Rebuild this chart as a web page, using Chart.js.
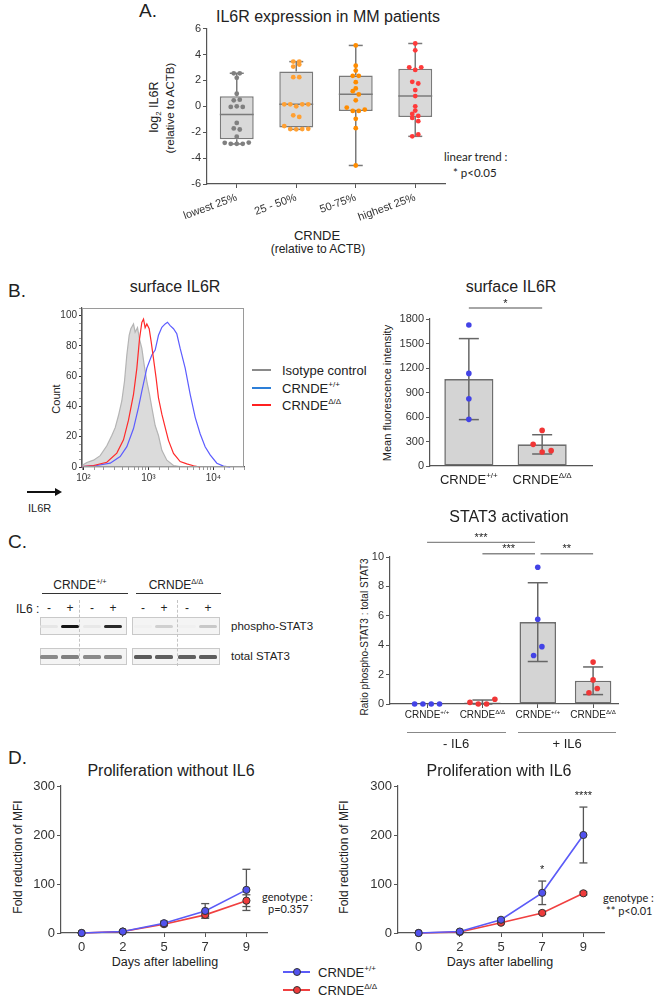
<!DOCTYPE html>
<html>
<head>
<meta charset="utf-8">
<title>CRNDE / IL6R figure</title>
<script src="https://cdn.jsdelivr.net/npm/chart.js@4.4.1/dist/chart.umd.min.js"></script>
<style>
  body { margin: 0; background: #fff; }
  #page { position: relative; width: 654px; height: 997px; overflow: hidden; font-family: "Liberation Sans", Arial, sans-serif; color: #222; }
  .t { position: absolute; white-space: nowrap; line-height: 1; }
  .t sup, .t sub { font-size: 0.62em; line-height: 0; }
  #page canvas { position: absolute; }
  .ln { position: absolute; box-sizing: border-box; }
</style>
</head>
<body>
<div id="page"></div>
<script>
const FONT = '"Liberation Sans", Arial, sans-serif';
const LATO = 'Lato, "Open Sans", sans-serif';

// A. log2 IL6R per CRNDE quartile
const QUARTILES = ['lowest 25%', '25 - 50%', '50-75%', 'highest 25%'];
const IL6R_Q1 = [2.55, 2.2, 2.55, 0.97, 0.46, 0.51, -0.05, 0.0, -0.05, -1.28, -1.71, -1.79, -2.35, -2.82, -2.9, -2.9, -2.9, -2.8];
const IL6R_Q2 = [3.45, 3.45, 3.07, 3.22, 2.25, 2.25, 0.15, 0.15, 0.0, 0.15, 0.15, -0.7, -0.82, -1.53, -1.76, -1.78, -1.76, -1.74];
const IL6R_Q3 = [4.7, 3.14, 2.76, 2.35, 2.35, 1.86, 1.38, 1.17, 0.92, 0.46, -0.1, -0.36, -0.36, -0.25, -0.97, -1.69, -4.57];
const IL6R_Q4 = [4.85, 4.32, 3.01, 2.81, 3.01, 1.89, 1.76, 1.25, 0.79, 0.0, -0.33, -0.59, -0.74, -0.9, -1.15, -2.32, -2.17];
const BOX_MIN = [-2.91, -1.78, -4.57, -2.32];
const BOX_LOW = [-2.55, -1.64, -0.36, -0.82];
const BOX_MED = [-0.64, 0.15, 0.94, 0.79];
const BOX_HIGH = [0.77, 2.68, 2.37, 2.89];
const BOX_MAX = [2.55, 3.45, 4.7, 4.85];

// B. flow histograms (fluorescence, % of max)
const ISO_X = [94, 113, 143, 181, 229, 273, 308, 346, 389, 428, 465, 505, 536, 589, 624, 678, 728, 791, 859, 944, 1038, 1127, 1268, 1426, 1607, 1919, 2427, 3076];
const ISO_Y = [1, 3, 4.5, 7.5, 14, 20.8, 26, 34, 43.6, 56.6, 74, 87, 91.3, 94.5, 89, 92, 84.5, 78.3, 67.4, 56.6, 48, 39.3, 27.4, 20.8, 11, 4.5, 1, 0.3];
const WT_X = [94, 160, 258, 367, 465, 589, 703, 791, 944, 1127, 1268, 1426, 1607, 1807, 1963, 2158, 2427, 2729, 3076, 3673, 4385, 5236, 6237, 7447, 8892, 11272, 14256, 18072];
const WT_Y = [0.2, 1, 2.5, 6.9, 13.4, 25.4, 39.3, 50.1, 65.3, 74, 77.2, 87, 92.3, 94.5, 95.6, 93.4, 91.3, 88, 78.3, 65.3, 48, 32.8, 22, 13.4, 8, 2.5, 0.6, 0];
const KO_X = [94, 143, 229, 326, 413, 493, 589, 662, 728, 791, 840, 889, 944, 1026, 1102, 1194, 1312, 1426, 1607, 1807, 2032, 2427, 3076, 3890, 4932, 6237];
const KO_Y = [0.2, 1, 3.1, 9.2, 17.9, 30.9, 48, 65, 84.5, 95.4, 97.6, 92, 94.5, 91.3, 82.6, 71.7, 58.7, 45.7, 34.9, 26.2, 17.6, 9, 3.6, 2.1, 0.8, 0];
const DECADES = ['10²', '10³', '10⁴'];

// B. surface IL6R MFI
const MFI_WT = [1727, 1134, 824, 571];
const MFI_KO = [436, 265, 171, 188];
const MFI_MEAN = [1064, 265];
const MFI_SD = [496, 118];
const MFI_SIG = [{ from: 0, to: 1, at: 1935, label: '*' }];

// C. phospho-STAT3 : total STAT3
const STAT3_WT_NO = [0, 0, 0, 0];
const STAT3_KO_NO = [0.11, 0, 0, 0.32];
const STAT3_WT_IL6 = [9.3, 5.77, 3.3, 3.9];
const STAT3_KO_IL6 = [2.85, 1.64, 0.77, 1.05];
const STAT3_MEAN = [0, 0.11, 5.57, 1.58];
const STAT3_SD = [0, 0.16, 2.68, 0.94];
const STAT3_SIG = [
  { from: 0, to: 1.95, at: 11.0, label: '***' },
  { from: 1, to: 1.95, at: 10.22, label: '***' },
  { from: 2.05, to: 3, at: 10.22, label: '**' }
];

// D. proliferation (fold reduction of MFI)
const DAYS = ['0', '2', '5', '7', '9'];
const NOIL6_WT = [0, 3, 20, 45, 88];
const NOIL6_WT_SD = [0, 1, 4, 15, 42];
const NOIL6_KO = [0, 3, 18, 37, 66];
const NOIL6_KO_SD = [0, 1, 3, 4, 12];
const IL6_WT = [0, 3, 27, 82, 200];
const IL6_WT_SD = [0, 1, 3, 24, 57];
const IL6_KO = [0, 2, 21, 41, 81];
const IL6_KO_SD = [0, 1, 2, 3, 3];
const IL6_STARS = ['', '', '', '*', '****'];

const BLUE = '#4343e6', RED = '#f03636';
const WT_LABEL = 'CRNDE<sup>+/+</sup>', KO_LABEL = 'CRNDE<sup>Δ/Δ</sup>';

const page = document.getElementById('page');

function T(html, x, y, o) {
  o = o || {};
  const d = document.createElement('div');
  d.className = 't';
  d.innerHTML = html;
  d.style.left = x + 'px';
  d.style.top = y + 'px';
  d.style.fontSize = (o.size || 12) + 'px';
  if (o.font) d.style.fontFamily = o.font;
  const ax = o.align === 'l' ? '0' : (o.align === 'r' ? '-100%' : '-50%');
  d.style.transform = 'translate(' + ax + ',-50%)' + (o.rot ? ' rotate(' + o.rot + 'deg)' : '');
  page.appendChild(d);
  return d;
}
function R(x, y, w, h, css) {
  const d = document.createElement('div');
  d.className = 'ln';
  d.style.cssText = 'left:' + x + 'px;top:' + y + 'px;width:' + w + 'px;height:' + h + 'px;' + (css || '');
  page.appendChild(d);
  return d;
}
function seg(ctx, x1, y1, x2, y2) {
  ctx.beginPath(); ctx.moveTo(x1, y1); ctx.lineTo(x2, y2); ctx.stroke();
}
const pts = (xs, ys) => xs.map((v, i) => ({ x: v, y: ys[i] }));

// spread tied dots sideways, centred rows like a scatter dot plot
function swarm(vals, center, pxPerY, rowPx, step) {
  const idx = vals.map((v, i) => i).sort((a, b) => vals[a] - vals[b]);
  const xs = [];
  let row = [];
  const flush = () => {
    row.sort((a, b) => a - b);
    row.forEach((k, j) => { xs[k] = center + (j - (row.length - 1) / 2) * step; });
    row = [];
  };
  idx.forEach(k => {
    if (row.length && (vals[k] - vals[row[0]]) * pxPerY > rowPx) flush();
    row.push(k);
  });
  flush();
  return vals.map((v, i) => ({ x: xs[i], y: v }));
}

function mk(area, pad, cfg) {
  const c = document.createElement('canvas');
  const w = area.r - area.l + pad.l + pad.r, h = area.b - area.t + pad.t + pad.b;
  c.width = w; c.height = h;
  c.style.left = (area.l - pad.l) + 'px';
  c.style.top = (area.t - pad.t) + 'px';
  c.style.width = w + 'px'; c.style.height = h + 'px';
  page.appendChild(c);
  const o = cfg.options;
  o.responsive = false; o.animation = false; o.devicePixelRatio = 1;
  o.layout = { padding: { top: pad.t, right: pad.r, left: 0, bottom: 0 } };
  o.plugins = { legend: { display: false }, tooltip: { enabled: false } };
  o.scales.x.afterFit = s => { s.height = pad.b; };
  o.scales.y.afterFit = s => { s.width = pad.l; };
  const ch = new Chart(c, cfg);
  ch.ox = area.l - pad.l; ch.oy = area.t - pad.t;
  return ch;
}

function yAxis(min, max, step, size) {
  return {
    min: min, max: max,
    grid: { drawOnChartArea: false, tickLength: 4, tickColor: '#555' },
    border: { color: '#555', width: 1.2 },
    ticks: { stepSize: step, color: '#333', padding: 2, font: { family: FONT, size: size }, callback: v => String(v) }
  };
}
function xAxis(min, max, labels, size) {
  return {
    type: 'linear', min: min, max: max, offset: false,
    grid: { drawOnChartArea: false, offset: false, tickLength: 4, tickColor: '#555' },
    border: { color: '#555', width: 1.2 },
    afterBuildTicks: s => { s.ticks = labels.map((l, i) => ({ value: i })); },
    ticks: { color: '#333', padding: 3, autoSkip: false, maxRotation: 0, font: { family: FONT, size: size }, callback: v => labels[v] }
  };
}

function barErrors(means, sds, cap) {
  return {
    id: 'barErrors',
    afterDatasetDraw(ch, a) {
      if (a.index !== 0) return;
      const ctx = ch.ctx, x = ch.scales.x, y = ch.scales.y;
      ctx.save(); ctx.strokeStyle = '#666'; ctx.lineWidth = 1.5;
      means.forEach((m, i) => {
        if (!sds[i]) return;
        const cx = x.getPixelForValue(i), t = y.getPixelForValue(m + sds[i]), b = y.getPixelForValue(Math.max(0, m - sds[i]));
        seg(ctx, cx, t, cx, b); seg(ctx, cx - cap, t, cx + cap, t); seg(ctx, cx - cap, b, cx + cap, b);
      });
      ctx.restore();
    }
  };
}
function sigMarks(list) {
  return {
    id: 'sigMarks',
    afterDraw(ch) {
      const ctx = ch.ctx, x = ch.scales.x, y = ch.scales.y;
      ctx.save(); ctx.strokeStyle = '#888'; ctx.lineWidth = 1.3; ctx.fillStyle = '#222';
      ctx.font = '11px ' + FONT; ctx.textAlign = 'center'; ctx.textBaseline = 'bottom';
      list.forEach(s => {
        const x1 = x.getPixelForValue(s.from), x2 = x.getPixelForValue(s.to), yy = y.getPixelForValue(s.at);
        seg(ctx, x1, yy, x2, yy);
        ctx.fillText(s.label, (x1 + x2) / 2, yy + 1);
      });
      ctx.restore();
    }
  };
}
function labelsUnder(ch, labels, yc, size) {
  labels.forEach((l, i) => T(l, ch.ox + ch.scales.x.getPixelForValue(i), yc, { size: size }));
}

// ---------- A ----------
T('A.', 139, 10, { size: 19, align: 'l' });
T('IL6R expression in MM patients', 328, 17, { size: 16 });
T('log<sub>2</sub> IL6R', 154, 107, { size: 12.5, rot: -90 });
T('(relative to ACTB)', 170.5, 108, { size: 11.5, rot: -90 });
T('CRNDE', 317, 235, { size: 13 });
T('(relative to ACTB)', 318, 249, { size: 12 });
T('linear trend :', 444, 157, { size: 11.5, align: 'l', font: LATO });
T('* p&lt;0.05', 453, 173, { size: 11.5, align: 'l', font: LATO });

(function () {
  const area = { l: 207, t: 28, r: 445, b: 184 };
  const pxX = (area.r - area.l) / 4, pxY = (area.b - area.t) / 12;
  const groups = [IL6R_Q1, IL6R_Q2, IL6R_Q3, IL6R_Q4];
  const colors = ['#808080', '#ffa033', '#ff8c00', '#ff3a3a'];
  const xa = xAxis(-0.5, 3.5, QUARTILES, 11);
  xa.ticks.minRotation = 20; xa.ticks.maxRotation = 20;
  const whiskers = {
    id: 'whiskers',
    afterDatasetDraw(ch, a) {
      if (a.index !== 0) return;
      const ctx = ch.ctx, x = ch.scales.x, y = ch.scales.y, bars = ch.getDatasetMeta(0).data;
      ctx.save(); ctx.strokeStyle = '#7a7a7a'; ctx.lineWidth = 1.5;
      BOX_MED.forEach((m, i) => {
        const cx = x.getPixelForValue(i), hw = bars[i].width / 2, cap = 7;
        const top = y.getPixelForValue(BOX_MAX[i]), bot = y.getPixelForValue(BOX_MIN[i]);
        seg(ctx, cx - hw, y.getPixelForValue(m), cx + hw, y.getPixelForValue(m));
        seg(ctx, cx, y.getPixelForValue(BOX_HIGH[i]), cx, top);
        seg(ctx, cx, y.getPixelForValue(BOX_LOW[i]), cx, bot);
        seg(ctx, cx - cap, top, cx + cap, top);
        seg(ctx, cx - cap, bot, cx + cap, bot);
      });
      ctx.restore();
    }
  };
  mk(area, { l: 40, t: 8, r: 8, b: 48 }, {
    type: 'bar',
    data: {
      datasets: [{
        type: 'bar', order: 2,
        data: QUARTILES.map((q, i) => ({ x: i, y: [BOX_LOW[i], BOX_HIGH[i]] })),
        backgroundColor: '#d9d9d9', borderColor: '#7a7a7a', borderWidth: 1.5, borderSkipped: false,
        barPercentage: 0.57, categoryPercentage: 1
      }].concat(groups.map((g, i) => ({
        type: 'scatter', order: 1, clip: false,
        data: swarm(g, i, pxY, 4, 6 / pxX),
        backgroundColor: colors[i], borderWidth: 0, pointRadius: 2.4
      })))
    },
    options: { scales: { x: xa, y: yAxis(-6, 6, 2, 11) } },
    plugins: [whiskers]
  });
})();

// ---------- B ----------
T('B.', 8, 290, { size: 19, align: 'l' });
T('surface IL6R', 175, 287, { size: 16 });
T('surface IL6R', 511, 287, { size: 16 });
T('Count', 56, 399, { size: 11, rot: -90 });
R(27, 491, 30, 1.6, 'background:#111');
R(55, 487.5, 0, 0, 'border-left:7px solid #111;border-top:4.3px solid transparent;border-bottom:4.3px solid transparent');
T('IL6R', 28, 508, { size: 11, align: 'l' });
[['Isotype control', '#8a8a8a', 370], [WT_LABEL, '#2d7fd8', 388], [KO_LABEL, '#ff2020', 405]].forEach(r => {
  R(252, r[2] - 1, 19, 2.2, 'background:' + r[1]);
  T(r[0], 282, r[2], { size: 13, align: 'l' });
});

(function () {
  const frame = {
    id: 'frame',
    afterDraw(ch) {
      const a = ch.chartArea, ctx = ch.ctx;
      ctx.save(); ctx.strokeStyle = '#9a9a9a'; ctx.lineWidth = 1;
      ctx.strokeRect(a.left + 0.5, a.top + 0.5, a.right - a.left - 1, a.bottom - a.top - 1);
      ctx.restore();
    }
  };
  const isMajor = v => Math.abs(Math.log10(v) - Math.round(Math.log10(v))) < 1e-6;
  const line = (x, y, col, extra) => Object.assign({
    data: pts(x, y), borderColor: col, borderWidth: 1.2, pointRadius: 0, tension: 0, fill: false, clip: false
  }, extra || {});
  mk({ l: 82, t: 306, r: 244, b: 467 }, { l: 28, t: 6, r: 6, b: 22 }, {
    type: 'line',
    data: {
      datasets: [
        line(KO_X, KO_Y, '#ff2a2a'),
        line(WT_X, WT_Y, '#5c5cff'),
        line(ISO_X, ISO_Y, '#b4b4b4', { fill: 'origin', backgroundColor: 'rgba(200,200,200,0.65)' })
      ]
    },
    options: {
      scales: {
        x: {
          type: 'logarithmic', min: 95, max: 29500,
          grid: { drawOnChartArea: false, tickLength: 3, tickColor: c => (c.tick && isMajor(c.tick.value)) ? '#333' : '#999' },
          border: { color: '#555', width: 1.2 },
          ticks: {
            includeBounds: false, autoSkip: false, maxRotation: 0, color: '#333', padding: 2,
            font: { family: FONT, size: 10 },
            callback: v => isMajor(v) ? DECADES[Math.round(Math.log10(v)) - 2] || '' : ''
          }
        },
        y: {
          min: 0, max: 105,
          grid: { drawOnChartArea: false, tickLength: 3, tickColor: c => (c.tick && c.tick.value % 20 === 0) ? '#333' : '#999' },
          border: { color: '#555', width: 1.2 },
          ticks: { stepSize: 5, includeBounds: false, autoSkip: false, color: '#333', padding: 2, font: { family: FONT, size: 10 }, callback: v => v % 20 === 0 ? String(v) : '' }
        }
      }
    },
    plugins: [frame]
  });
})();

T('Mean fluorescence intensity', 387, 393, { size: 11, rot: -90 });
(function () {
  const area = { l: 430, t: 319, r: 592, b: 466 };
  const pxX = (area.r - area.l) / 2.21, pxY = (area.b - area.t) / 1800;
  const xa = xAxis(-0.53, 1.68, ['', ''], 11);
  xa.grid.tickColor = 'rgba(0,0,0,0)';
  const ch = mk(area, { l: 40, t: 30, r: 6, b: 24 }, {
    type: 'bar',
    data: {
      datasets: [
        { type: 'bar', order: 2, data: MFI_MEAN.map((m, i) => ({ x: i, y: m })), backgroundColor: '#d4d4d4', borderColor: '#6e6e6e', borderWidth: 1.6, borderSkipped: false, barPercentage: 0.67, categoryPercentage: 1 },
        { type: 'scatter', order: 1, clip: false, data: swarm(MFI_WT, 0, pxY, 9.5, 9 / pxX), backgroundColor: BLUE, borderWidth: 0, pointRadius: 2.8 },
        { type: 'scatter', order: 1, clip: false, data: swarm(MFI_KO, 1, pxY, 9.5, 9 / pxX), backgroundColor: RED, borderWidth: 0, pointRadius: 2.8 }
      ]
    },
    options: { scales: { x: xa, y: yAxis(0, 1800, 300, 11) } },
    plugins: [barErrors(MFI_MEAN, MFI_SD, 10), sigMarks(MFI_SIG)]
  });
  labelsUnder(ch, [WT_LABEL, KO_LABEL], 479, 13);
})();

// ---------- C ----------
T('C.', 8, 541, { size: 19, align: 'l' });
T('STAT3 activation', 509, 517, { size: 16 });
T(WT_LABEL, 80, 585, { size: 12 });
T(KO_LABEL, 176, 585, { size: 12 });
R(42, 593, 86, 1.4, 'background:#333');
R(136, 593, 85, 1.4, 'background:#333');
T('IL6 :', 16, 609, { size: 12, align: 'l' });
const LANES = [49, 70, 92, 113, 143, 164, 187, 208];
LANES.forEach((lx, i) => T(i % 2 ? '+' : '-', lx, 608, { size: 12 }));
[[40, 127], [132, 220]].forEach(b => {
  R(b[0], 617, b[1] - b[0], 18, 'background:#f4f4f4;border:1px solid #c9c9c9');
  R(b[0], 648, b[1] - b[0], 17, 'background:#f4f4f4;border:1px solid #c9c9c9');
});
R(78.5, 600, 0, 66, 'border-left:1px dashed #c4c4c4');
R(176.5, 600, 0, 66, 'border-left:1px dashed #c4c4c4');
const P_BANDS = ['#e6e6e6', '#151515', '#e8e8e8', '#2a2a2a', '#f0f0f0', '#d0d0d0', '#f0f0f0', '#c8c8c8'];
const T_BANDS = ['#8a8a8a', '#808080', '#8a8a8a', '#858585', '#5a5a5a', '#5e5e5e', '#606060', '#5c5c5c'];
LANES.forEach((lx, i) => {
  R(lx - 9, 624.5, 18, 3.5, 'background:' + P_BANDS[i] + ';border-radius:1.5px;filter:blur(0.5px)');
  R(lx - 9, 654.5, 18, 4, 'background:' + T_BANDS[i] + ';border-radius:1.5px;filter:blur(0.5px)');
});
T('phospho-STAT3', 231, 627, { size: 11.5, align: 'l' });
T('total STAT3', 231, 657, { size: 11.5, align: 'l' });

T('Ratio phospho-STAT3 : total STAT3', 365, 637, { size: 10, rot: -90 });
(function () {
  const area = { l: 390, t: 557, r: 618, b: 704 };
  const pxX = (area.r - area.l) / 4.12, pxY = (area.b - area.t) / 10;
  const cols = [BLUE, RED, BLUE, RED];
  const groups = [STAT3_WT_NO, STAT3_KO_NO, STAT3_WT_IL6, STAT3_KO_IL6];
  const xa = xAxis(-0.67, 3.45, ['', '', '', ''], 10);
  const ch = mk(area, { l: 28, t: 26, r: 6, b: 24 }, {
    type: 'bar',
    data: {
      datasets: [
        { type: 'bar', order: 2, data: STAT3_MEAN.map((m, i) => ({ x: i, y: m })), backgroundColor: '#d4d4d4', borderColor: '#6e6e6e', borderWidth: 1.6, borderSkipped: false, barPercentage: 0.66, categoryPercentage: 1 }
      ].concat(groups.map((g, i) => ({
        type: 'scatter', order: 1, clip: false, data: swarm(g, i, pxY, 9.5, 8.3 / pxX), backgroundColor: cols[i], borderWidth: 0, pointRadius: 2.8
      })))
    },
    options: { scales: { x: xa, y: yAxis(0, 10, 2, 11) } },
    plugins: [barErrors(STAT3_MEAN, STAT3_SD, 10), sigMarks(STAT3_SIG)]
  });
  labelsUnder(ch, [WT_LABEL, KO_LABEL, WT_LABEL, KO_LABEL], 715, 10);
  const x = v => ch.ox + ch.scales.x.getPixelForValue(v);
  R(x(-0.37), 731.5, x(1.42) - x(-0.37), 1.4, 'background:#888');
  R(x(1.64), 731.5, x(3.42) - x(1.64), 1.4, 'background:#888');
  T('- IL6', (x(-0.37) + x(1.42)) / 2, 743, { size: 13 });
  T('+ IL6', (x(1.64) + x(3.42)) / 2, 743, { size: 13 });
})();

// ---------- D ----------
T('D.', 8, 757, { size: 19, align: 'l' });
T('Proliferation without IL6', 171, 771, { size: 16 });
T('Proliferation with IL6', 499, 771, { size: 16 });
T('Fold reduction of MFI', 18, 857, { size: 12, rot: -90 });
T('Fold reduction of MFI', 344, 857, { size: 12, rot: -90 });
T('Days after labelling', 165, 962, { size: 12.5 });
T('Days after labelling', 500, 962, { size: 12.5 });
T('genotype :', 262, 896, { size: 11, align: 'l', font: LATO });
T('p=0.357', 268, 908, { size: 11, align: 'l', font: LATO });
T('genotype :', 603, 897, { size: 11, align: 'l', font: LATO });
T('** p&lt;0.01', 606, 910, { size: 11, align: 'l', font: LATO });
[[WT_LABEL, '#5b5bf7', '#5252ee', 972], [KO_LABEL, '#f04040', '#ee3b3b', 990]].forEach(r => {
  R(283, r[3] - 0.8, 27, 1.6, 'background:' + r[1]);
  R(292.5, r[3] - 4, 8, 8, 'background:' + r[2] + ';border:1px solid #333;border-radius:50%');
  T(r[0], 318, r[3], { size: 13, align: 'l' });
});

function prolif(area, wt, wtSd, ko, koSd, stars) {
  const errs = {
    id: 'lineErrors',
    beforeDatasetsDraw(ch) {
      const ctx = ch.ctx, x = ch.scales.x, y = ch.scales.y;
      ctx.save(); ctx.strokeStyle = '#555'; ctx.lineWidth = 1.3;
      [[wt, wtSd], [ko, koSd]].forEach(s => s[0].forEach((m, i) => {
        if (!s[1][i]) return;
        const cx = x.getPixelForValue(i), t = y.getPixelForValue(m + s[1][i]), b = y.getPixelForValue(m - s[1][i]);
        seg(ctx, cx, t, cx, b); seg(ctx, cx - 4, t, cx + 4, t); seg(ctx, cx - 4, b, cx + 4, b);
      }));
      ctx.restore();
    }
  };
  const starText = {
    id: 'stars',
    afterDraw(ch) {
      const ctx = ch.ctx, x = ch.scales.x, y = ch.scales.y;
      ctx.save(); ctx.fillStyle = '#222'; ctx.font = '11px ' + FONT; ctx.textAlign = 'center'; ctx.textBaseline = 'middle';
      stars.forEach((s, i) => { if (s) ctx.fillText(s, x.getPixelForValue(i), y.getPixelForValue(wt[i] + wtSd[i]) - 11); });
      ctx.restore();
    }
  };
  const series = (vals, line, fill) => ({
    data: vals.map((v, i) => ({ x: i, y: v })), borderColor: line, borderWidth: 1.6, tension: 0, clip: false,
    pointRadius: 3.6, pointBackgroundColor: fill, pointBorderColor: '#333', pointBorderWidth: 1
  });
  return mk(area, { l: 32, t: 10, r: 6, b: 24 }, {
    type: 'line',
    data: { datasets: [series(wt, '#5b5bf7', '#5252ee'), series(ko, '#f04040', '#ee3b3b')] },
    options: { scales: { x: xAxis(-0.5, 4.5, DAYS, 13), y: yAxis(0, 300, 100, 13) } },
    plugins: [errs, starText]
  });
}
prolif({ l: 61, t: 786, r: 267, b: 933 }, NOIL6_WT, NOIL6_WT_SD, NOIL6_KO, NOIL6_KO_SD, ['', '', '', '', '']);
prolif({ l: 398, t: 786, r: 604, b: 933 }, IL6_WT, IL6_WT_SD, IL6_KO, IL6_KO_SD, IL6_STARS);
</script>
</body>
</html>
